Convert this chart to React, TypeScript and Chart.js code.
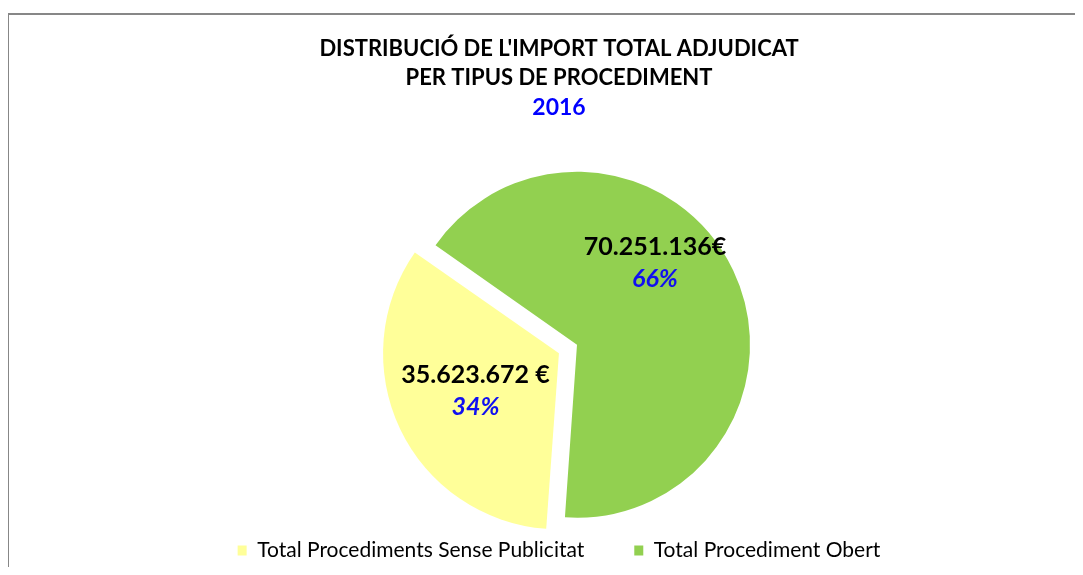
import React, { useEffect, useRef } from 'react';
import { Chart, registerables, layouts } from 'chart.js';

Chart.register(...registerables);

// ---- data ----
const categories = ['Total Procediments Sense Publicitat', 'Total Procediment Obert'];
const amounts = [35623672, 70251136];
const amountLabels = ['35.623.672 €', '70.251.136€'];
const sliceColors = ['#FFFF99', '#92D050'];
const titleLines = ["DISTRIBUCIÓ DE L'IMPORT TOTAL ADJUDICAT", 'PER TIPUS DE PROCEDIMENT'];
const yearLabel = '2016';

// ---- label placement (relative to slices) ----
const labelAngleShiftDeg = [0.8, -21];
const labelRadiusRatio = [0.646, 0.654];

const FONT = 'Lato, "Open Sans", sans-serif';
const CANVAS_W = 1076;
const CANVAS_H = 563;
const LEFT_SPACER = 36;

const spacerPlugin = {
  id: 'leftSpacer',
  beforeLayout(chart: any) {
    if (chart.$leftSpacer) return;
    const box: any = {
      position: 'left',
      weight: 0,
      fullSize: false,
      options: {},
      left: 0, top: 0, right: 0, bottom: 0, width: 0, height: 0,
      isHorizontal() { return false; },
      update(_maxW: number, maxH: number) { box.width = LEFT_SPACER; box.height = maxH; },
      draw() {},
    };
    layouts.addBox(chart, box);
    chart.$leftSpacer = box;
  },
};

const framePlugin = {
  id: 'frame',
  beforeDraw(chart: any) {
    const ctx = chart.ctx;
    ctx.save();
    ctx.fillStyle = '#878787';
    ctx.fillRect(0, 5, chart.width, 2);
    ctx.fillRect(0, 5, 2, chart.height);
    ctx.restore();
  },
};

const sliceLabelPlugin = {
  id: 'sliceLabels',
  afterDatasetsDraw(chart: any) {
    const meta = chart.getDatasetMeta(0);
    const total = amounts.reduce((a, b) => a + b, 0);
    const ctx = chart.ctx;
    meta.data.forEach((arc: any, i: number) => {
      const { x, y, startAngle, endAngle, outerRadius } = arc.getProps(
        ['x', 'y', 'startAngle', 'endAngle', 'outerRadius'], true);
      const a = (startAngle + endAngle) / 2 + (labelAngleShiftDeg[i] * Math.PI) / 180;
      const r = outerRadius * labelRadiusRatio[i];
      const cx = x + Math.cos(a) * r;
      const cy = y + Math.sin(a) * r;
      ctx.save();
      ctx.textAlign = 'center';
      ctx.textBaseline = 'middle';
      ctx.font = `bold 25px ${FONT}`;
      ctx.fillStyle = '#000000';
      ctx.fillText(amountLabels[i], cx, cy - 16);
      ctx.font = `italic bold 25px ${FONT}`;
      ctx.fillStyle = '#1010F0';
      ctx.fillText(Math.round((amounts[i] / total) * 100) + '%', cx, cy + 16);
      ctx.restore();
    });
  },
};

export default function App() {
  const ref = useRef<HTMLCanvasElement | null>(null);

  useEffect(() => {
    if (!ref.current) return;
    const chart = new Chart(ref.current, {
      type: 'pie',
      data: {
        labels: categories,
        datasets: [
          {
            data: amounts,
            backgroundColor: sliceColors,
            borderWidth: 0,
            offset: [80, 0],
            hoverOffset: 0,
          },
        ],
      },
      options: {
        responsive: false,
        animation: false,
        events: [],
        radius: 173,
        rotation: 184,
        layout: { padding: { left: 28, right: 0, top: 0, bottom: 0 } },
        plugins: {
          title: {
            display: true,
            text: titleLines,
            color: '#000000',
            font: { family: FONT, size: 22, weight: 'bold', lineHeight: '29px' },
            padding: { top: 26.5, bottom: 0 },
          },
          subtitle: {
            display: true,
            text: yearLabel,
            color: '#0000FF',
            font: { family: FONT, size: 23, weight: 'bold', lineHeight: '30px' },
            padding: { top: 0, bottom: 77 },
          },
          legend: {
            display: true,
            position: 'bottom',
            align: 'center',
            labels: {
              color: '#000000',
              font: { family: FONT, size: 21 },
              boxWidth: 9,
              boxHeight: 10,
              padding: 50,
            },
          },
          tooltip: { enabled: false },
        },
      } as any,
      plugins: [spacerPlugin, framePlugin, sliceLabelPlugin],
    });
    return () => chart.destroy();
  }, []);

  return (
    <div style={{ marginLeft: -1, width: CANVAS_W, height: 559, overflow: 'hidden' }}>
      <canvas ref={ref} width={CANVAS_W} height={CANVAS_H} style={{ display: 'block' }} />
    </div>
  );
}
